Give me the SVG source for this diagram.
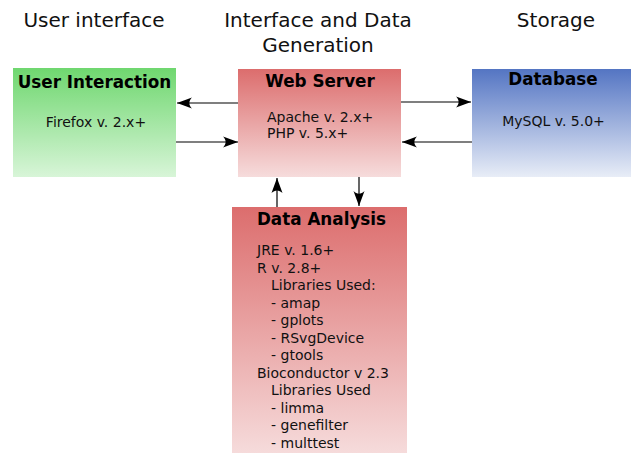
<svg xmlns="http://www.w3.org/2000/svg" width="631" height="453" viewBox="0 0 631 453">
<style>
.hdr{font-family:"DejaVu Sans","Liberation Sans",sans-serif;font-size:20px;fill:#111;text-anchor:middle}
.ttl{font-family:"DejaVu Sans","Liberation Sans",sans-serif;font-size:16.8px;font-weight:bold;fill:#000;text-anchor:middle}
.txt{font-family:"DejaVu Sans","Liberation Sans",sans-serif;font-size:14px;fill:#111}
.mid{text-anchor:middle}
.con{stroke:#000;stroke-width:1.2;fill:none;marker-end:url(#ah)}
</style>
<defs>
<linearGradient id="gGreen" x1="0" y1="0" x2="0" y2="1">
<stop offset="0" stop-color="#6fd76f"/><stop offset="1" stop-color="#d8f5d8"/>
</linearGradient>
<linearGradient id="gRed" x1="0" y1="0" x2="0" y2="1">
<stop offset="0" stop-color="#dc6d6d"/><stop offset="1" stop-color="#f6dcdc"/>
</linearGradient>
<linearGradient id="gBlue" x1="0" y1="0" x2="0" y2="1">
<stop offset="0" stop-color="#5475c3"/><stop offset="1" stop-color="#e8edf7"/>
</linearGradient>
<marker id="ah" viewBox="-16 -6 17 12" markerWidth="17" markerHeight="12" refX="0" refY="0" orient="auto" markerUnits="userSpaceOnUse">
<path d="M0,0 L-15,-5.5 C-11.5,-2 -11.5,2 -15,5.5 Z" fill="#000"/>
</marker>
</defs>
<rect width="631" height="453" fill="#fff"/>
<g id="headers">
<text class="hdr" x="94" y="27">User interface</text>
<text class="hdr" x="318" y="27">Interface and Data</text>
<text class="hdr" x="318" y="52">Generation</text>
<text class="hdr" x="556" y="27">Storage</text>
</g>
<g id="user-interaction">
<rect x="13" y="68" width="163" height="109" fill="url(#gGreen)"/>
<text class="ttl" x="94.5" y="88">User Interaction</text>
<text class="txt mid" x="96" y="127">Firefox v. 2.x+</text>
</g>
<g id="web-server">
<rect x="238" y="69" width="163" height="108" fill="url(#gRed)"/>
<text class="ttl" x="320" y="87">Web Server</text>
<text class="txt" x="267" y="122">Apache v. 2.x+</text>
<text class="txt" x="267" y="137.5">PHP v. 5.x+</text>
</g>
<g id="database">
<rect x="472" y="69" width="159" height="108" fill="url(#gBlue)"/>
<text class="ttl" x="553" y="85">Database</text>
<text class="txt mid" x="553.5" y="126">MySQL v. 5.0+</text>
</g>
<g id="data-analysis">
<rect x="232" y="207" width="175" height="248" fill="url(#gRed)"/>
<text class="ttl" x="321.5" y="225">Data Analysis</text>
<text class="txt" x="257" y="255">JRE v. 1.6+</text>
<text class="txt" x="257" y="272.5">R v. 2.8+</text>
<text class="txt" x="271" y="290">Libraries Used:</text>
<text class="txt" x="271" y="307.5">- amap</text>
<text class="txt" x="271" y="325">- gplots</text>
<text class="txt" x="271" y="342.5">- RSvgDevice</text>
<text class="txt" x="271" y="360">- gtools</text>
<text class="txt" x="257" y="377.5">Bioconductor v 2.3</text>
<text class="txt" x="271" y="395">Libraries Used</text>
<text class="txt" x="271" y="412.5">- limma</text>
<text class="txt" x="271" y="430">- genefilter</text>
<text class="txt" x="271" y="447.5">- multtest</text>
</g>
<g id="connectors">
<line class="con" x1="238" y1="103" x2="177" y2="103"/>
<line class="con" x1="176" y1="142" x2="238" y2="142"/>
<line class="con" x1="401" y1="102" x2="471" y2="102"/>
<line class="con" x1="472" y1="142" x2="402" y2="142"/>
<line class="con" x1="277" y1="207" x2="277" y2="178"/>
<line class="con" x1="359" y1="177" x2="359" y2="206"/>
</g>
</svg>
